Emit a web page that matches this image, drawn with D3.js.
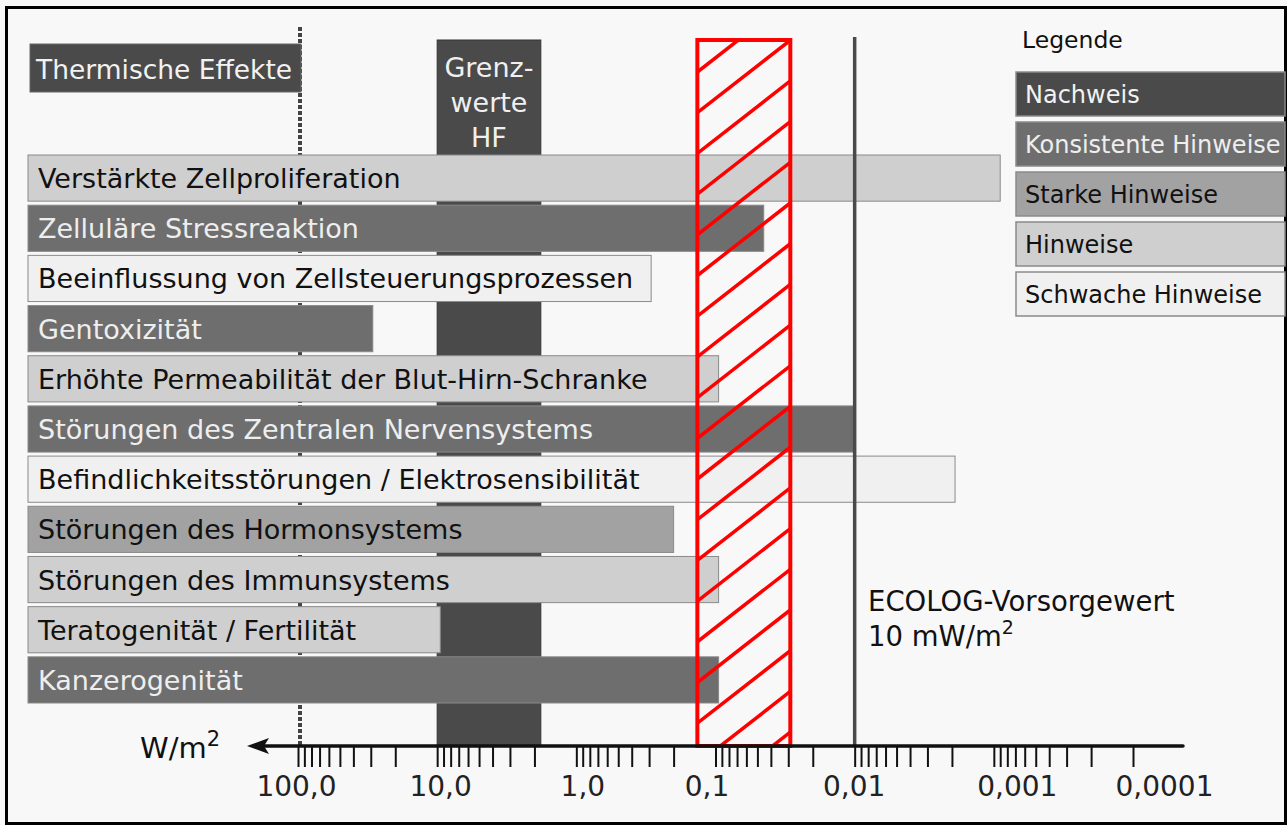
<!DOCTYPE html>
<html>
<head>
<meta charset="utf-8">
<style>
  body { margin: 0; background: #fff; }
  text { font-family: "DejaVu Sans", Verdana, sans-serif; }
</style>
</head>
<body>
<svg id="chart" width="1287" height="825"></svg>
<script src="https://d3js.org/d3.v7.min.js"></script>
<script>
// effects and the power density (W/m2) where each bar ends
const effects = [
  "Verstärkte Zellproliferation",
  "Zelluläre Stressreaktion",
  "Beeinflussung von Zellsteuerungsprozessen",
  "Gentoxizität",
  "Erhöhte Permeabilität der Blut-Hirn-Schranke",
  "Störungen des Zentralen Nervensystems",
  "Befindlichkeitsstörungen / Elektrosensibilität",
  "Störungen des Hormonsystems",
  "Störungen des Immunsystems",
  "Teratogenität / Fertilität",
  "Kanzerogenität"
];
const effectValues = [0.0009, 0.045, 0.29, 29, 0.095, 0.01, 0.0019, 0.2, 0.095, 9.5, 0.095];
const effectEvidence = [
  "Hinweise", "Konsistente Hinweise", "Schwache Hinweise", "Konsistente Hinweise",
  "Hinweise", "Konsistente Hinweise", "Schwache Hinweise", "Starke Hinweise",
  "Hinweise", "Hinweise", "Konsistente Hinweise"
];
const legendLabels = ["Nachweis", "Konsistente Hinweise", "Starke Hinweise", "Hinweise", "Schwache Hinweise"];
const legendColors = ["#4a4a4a", "#6e6e6e", "#a2a2a2", "#cfcfcf", "#f0f0f0"];
const legendText = ["#f2f2f2", "#eeeeee", "#111", "#111", "#111"];

const tickValues = [100, 10, 1, 0.1, 0.01, 0.001, 0.0001];
const tickLabels = ["100,0", "10,0", "1,0", "0,1", "0,01", "0,001", "0,0001"];

const thermalLimit = 100;          // dotted line
const grenzwerte = [10, 1.8];      // Grenzwerte HF band
const redBand = [0.135, 0.029];    // hatched band
const ecologValue = 0.01;          // ECOLOG-Vorsorgewert

const svg = d3.select("#chart");

const x = d3.scaleLog().domain([100, 0.0001]).range([298, 1133]);
const barLeft = 28;
const y = d3.scaleBand().domain(effects).range([154, 704]).paddingInner(0.08).paddingOuter(0.02);
const axisY = 746;
const topY = 40;

const fill = d3.scaleOrdinal().domain(legendLabels).range(legendColors);
const txt = d3.scaleOrdinal().domain(legendLabels).range(legendText);

// background + frame
svg.append("rect").attr("x", 0).attr("y", 0).attr("width", 1287).attr("height", 825).attr("fill", "#f8f8f8");
svg.append("rect").attr("x", 6.5).attr("y", 7.5).attr("width", 1279).attr("height", 816)
  .attr("fill", "none").attr("stroke", "#000").attr("stroke-width", 3);

// Grenzwerte HF
svg.append("rect")
  .attr("x", x(grenzwerte[0])).attr("y", topY)
  .attr("width", x(grenzwerte[1]) - x(grenzwerte[0])).attr("height", axisY - topY)
  .attr("fill", "#4a4a4a").attr("stroke", "#333").attr("stroke-width", 1);
const gx = (x(grenzwerte[0]) + x(grenzwerte[1])) / 2;
["Grenz-", "werte", "HF"].forEach((s, i) => {
  svg.append("text").attr("x", gx).attr("y", 77 + i * 35)
    .attr("text-anchor", "middle").attr("font-size", 27).attr("fill", "#f0f0f0").text(s);
});

// thermal effects
svg.append("line").attr("x1", x(thermalLimit) + 2).attr("x2", x(thermalLimit) + 2)
  .attr("y1", 27).attr("y2", axisY)
  .attr("stroke", "#444").attr("stroke-width", 4).attr("stroke-dasharray", "4,2");
svg.append("rect").attr("x", 30).attr("y", 44).attr("width", x(thermalLimit) + 3 - 30).attr("height", 48)
  .attr("fill", "#4a4a4a").attr("stroke", "#666").attr("stroke-width", 1);
svg.append("text").attr("x", 36).attr("y", 79).attr("font-size", 26.5).attr("fill", "#f2f2f2")
  .text("Thermische Effekte");

// bars
const rows = svg.append("g").selectAll("g").data(effects).join("g");
rows.append("rect")
  .attr("x", barLeft)
  .attr("y", d => y(d))
  .attr("width", (d, i) => x(effectValues[i]) - barLeft)
  .attr("height", y.bandwidth())
  .attr("fill", (d, i) => fill(effectEvidence[i]))
  .attr("stroke", "#8a8a8a").attr("stroke-width", 1);
rows.append("text")
  .attr("x", 38)
  .attr("y", d => y(d) + y.bandwidth() / 2 + 10)
  .attr("font-size", 27)
  .attr("fill", (d, i) => txt(effectEvidence[i]))
  .text(d => d);

// red hatched band
const rx0 = x(redBand[0]), rx1 = x(redBand[1]);
svg.append("clipPath").attr("id", "redclip").append("rect")
  .attr("x", rx0).attr("y", topY).attr("width", rx1 - rx0).attr("height", axisY - topY);
const hatch = svg.append("g").attr("clip-path", "url(#redclip)");
const slope = 0.78, step = 40.7;
for (let k = -1; k < 20; k++) {
  const yl = 112.7 + k * step;
  hatch.append("line").attr("x1", rx0).attr("y1", yl)
    .attr("x2", rx1).attr("y2", yl - slope * (rx1 - rx0))
    .attr("stroke", "#ff0000").attr("stroke-width", 3.5);
}
svg.append("rect").attr("x", rx0).attr("y", topY).attr("width", rx1 - rx0).attr("height", axisY - topY)
  .attr("fill", "none").attr("stroke", "#ff0000").attr("stroke-width", 4);

// ECOLOG line
svg.append("line").attr("x1", x(ecologValue)).attr("x2", x(ecologValue))
  .attr("y1", 37).attr("y2", axisY).attr("stroke", "#4a4a4a").attr("stroke-width", 3.5);
svg.append("text").attr("x", 868).attr("y", 611).attr("font-size", 27.5).attr("fill", "#111")
  .text("ECOLOG-Vorsorgewert");
const eco2 = svg.append("text").attr("x", 868).attr("y", 646).attr("font-size", 27.5).attr("fill", "#111");
eco2.append("tspan").text("10 mW/m");
eco2.append("tspan").attr("font-size", 19).attr("dy", -12).text("2");

// axis
const labelShift = [-2, 3, 6, -9, -1, 23, 31];
const axis = d3.axisBottom(x)
  .tickValues(x.ticks())
  .tickSize(20)
  .tickPadding(9)
  .tickFormat(d => {
    const i = tickValues.findIndex(t => Math.abs(Math.log10(t) - Math.log10(d)) < 1e-6);
    return i >= 0 ? tickLabels[i] : "";
  });
const ax = svg.append("g").attr("transform", `translate(0,${axisY + 1})`).call(axis);
ax.select(".domain").remove();
ax.selectAll(".tick line").attr("stroke", "#111").attr("stroke-width", 2);
ax.selectAll(".tick text")
  .attr("font-size", 28).attr("fill", "#222")
  .style("font-family", "DejaVu Sans, sans-serif")
  .attr("dx", d => {
    const i = tickValues.findIndex(t => Math.abs(Math.log10(t) - Math.log10(d)) < 1e-6);
    return i >= 0 ? labelShift[i] : 0;
  });
svg.append("line").attr("x1", 262).attr("x2", 1183).attr("y1", axisY).attr("y2", axisY)
  .attr("stroke", "#111").attr("stroke-width", 3.5).attr("stroke-linecap", "round");
svg.append("path").attr("d", `M247,${axisY} L269,${axisY - 8} L264,${axisY} L269,${axisY + 8} Z`).attr("fill", "#111");
const unit = svg.append("text").attr("x", 140).attr("y", 758).attr("font-size", 29).attr("fill", "#111");
unit.append("tspan").text("W/m");
unit.append("tspan").attr("font-size", 21).attr("dy", -12).text("2");

// legend
svg.append("text").attr("x", 1022).attr("y", 48).attr("font-size", 23.5).attr("fill", "#111").text("Legende");
const lg = svg.append("g").selectAll("g").data(legendLabels).join("g")
  .attr("transform", (d, i) => `translate(1016,${72 + i * 50})`);
lg.append("rect").attr("width", 269).attr("height", 44)
  .attr("fill", d => fill(d)).attr("stroke", "#8a8a8a").attr("stroke-width", 1.5);
lg.append("text").attr("x", 9).attr("y", 31).attr("font-size", 24)
  .attr("fill", d => txt(d)).text(d => d);
</script>
</body>
</html>
